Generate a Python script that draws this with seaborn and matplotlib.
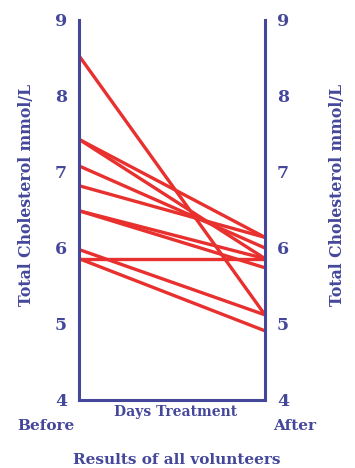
import pandas as pd
import seaborn as sns
import matplotlib.pyplot as plt
from matplotlib.transforms import ScaledTranslation

# valores (mmol/L)
stages = ['Before', 'After']
before = [8.53, 7.43, 7.43, 7.08, 6.82, 6.49, 6.49, 5.98, 5.86, 5.86]
after = [5.12, 6.14, 5.86, 6.00, 6.14, 5.86, 5.74, 5.12, 5.86, 4.91]
yticks = [4, 5, 6, 7, 8, 9]

navy = '#45489a'
red = '#e8312f'

rows = []
for i, (b, a) in enumerate(zip(before, after)):
    rows.append({'volunteer': i, 'stage': stages[0], 'value': b})
    rows.append({'volunteer': i, 'stage': stages[1], 'value': a})
df = pd.DataFrame(rows)

sns.set_style('white')
plt.rcParams['font.family'] = ['DejaVu Serif']
plt.rcParams['font.weight'] = 'bold'

fig = plt.figure(figsize=(3.55, 4.68), dpi=100)
ax = fig.add_axes([79 / 355, 68 / 468, 186 / 355, 380 / 468])

sns.lineplot(data=df, x='stage', y='value', units='volunteer', estimator=None,
             color=red, linewidth=2.4, ax=ax)

ax.set_xlim(0, 1)
ax.set_ylim(4, 9)
ax.set_yticks(yticks)
ax.set_yticklabels([str(t) for t in yticks])
ax.tick_params(axis='y', left=False, right=False, labelleft=True, labelright=True,
               labelsize=12.5, labelcolor=navy, pad=5)
ax.set_xticks([0, 1])
ax.set_xticklabels(stages)
ax.tick_params(axis='x', bottom=False, labelsize=11, labelcolor=navy, pad=10)
# Before pegado al eje izquierdo, After un poco a la derecha del eje derecho
for lab, ha, dx in zip(ax.get_xticklabels(), ['right', 'left'], [-4, 8]):
    lab.set_ha(ha)
    lab.set_transform(lab.get_transform() + ScaledTranslation(dx / 100, 0, fig.dpi_scale_trans))
ax.set_xlabel('')
ax.set_ylabel('')

for side in ['left', 'right', 'bottom']:
    ax.spines[side].set_color(navy)
    ax.spines[side].set_linewidth(2.2)
ax.spines['top'].set_visible(False)

fig.text(176 / 355, 1 - 412 / 468, 'Days Treatment', ha='center', va='center',
         color=navy, fontsize=10, fontweight='bold')
fig.text(177 / 355, 1 - 460 / 468, 'Results of all volunteers', ha='center', va='center',
         color=navy, fontsize=11, fontweight='bold')
fig.text(27 / 355, 1 - 195 / 468, 'Total Cholesterol mmol/L', rotation=90, ha='center',
         va='center', color=navy, fontsize=11.3, fontweight='bold')
fig.text(337 / 355, 1 - 195 / 468, 'Total Cholesterol mmol/L', rotation=90, ha='center',
         va='center', color=navy, fontsize=11.3, fontweight='bold')

fig.savefig('out.png', dpi=100)
